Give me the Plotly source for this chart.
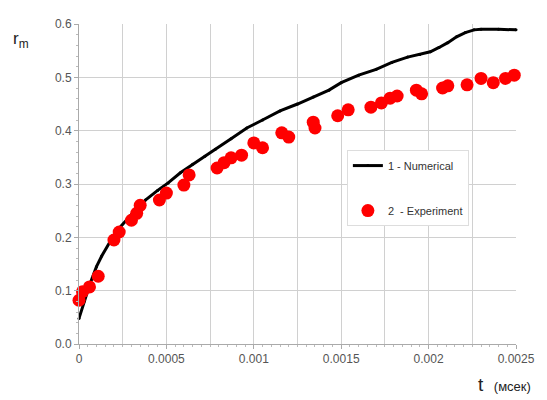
import plotly.graph_objects as go

# Numerical solution (curve 1)
t_num = [0, 0.00003, 0.00006, 0.0001, 0.00013, 0.00018, 0.00023, 0.0003, 0.00038,
         0.00045, 0.00051, 0.00058, 0.00065, 0.00072, 0.00078, 0.00087, 0.00096,
         0.00105, 0.00115, 0.00125, 0.00134, 0.00143, 0.0015, 0.0016, 0.0017,
         0.00179, 0.00188, 0.00195, 0.00201, 0.00206, 0.00211, 0.00216, 0.00221,
         0.00226, 0.0023, 0.0024, 0.0025]
r_num = [0.048, 0.08, 0.11, 0.145, 0.165, 0.193, 0.217, 0.243, 0.27,
         0.288, 0.302, 0.321, 0.337, 0.352, 0.365, 0.385, 0.405,
         0.42, 0.437, 0.45, 0.463, 0.476, 0.49, 0.504, 0.515,
         0.528, 0.538, 0.543, 0.548, 0.556, 0.565, 0.576, 0.584,
         0.589, 0.59, 0.59, 0.589]

# Experiment (series 2)
t_exp = [0, 0.00002, 0.00006, 0.00011, 0.0002, 0.00023, 0.0003, 0.00033, 0.00035,
         0.00046, 0.0005, 0.0006, 0.00063, 0.00079, 0.00083, 0.00087, 0.00093,
         0.001, 0.00105, 0.00116, 0.0012, 0.00134, 0.00135, 0.00148, 0.00154,
         0.00167, 0.00173, 0.00178, 0.00182, 0.00193, 0.00196, 0.00208, 0.00211,
         0.00222, 0.0023, 0.00237, 0.00244, 0.00249]
r_exp = [0.082, 0.098, 0.107, 0.127, 0.195, 0.21, 0.232, 0.245, 0.26,
         0.27, 0.283, 0.298, 0.317, 0.33, 0.34, 0.349, 0.354,
         0.377, 0.368, 0.396, 0.388, 0.416, 0.405, 0.428, 0.439,
         0.444, 0.452, 0.461, 0.465, 0.476, 0.469, 0.48, 0.484,
         0.486, 0.498, 0.49, 0.498, 0.504]

x_tickvals = [0, 0.0005, 0.001, 0.0015, 0.002, 0.0025]
x_ticktext = ["0", "0.0005", "0.001", "0.0015", "0.002", "0.0025"]
y_tickvals = [0.0, 0.1, 0.2, 0.3, 0.4, 0.5, 0.6]
y_ticktext = ["0.0", "0.1", "0.2", "0.3", "0.4", "0.5", "0.6"]

name_num = "1 - Numerical"
name_exp = "2  - Experiment"

fig = go.Figure()
fig.add_trace(go.Scatter(
    x=t_num, y=r_num, mode="lines+markers", name=name_num, legendgroup="a",
    line=dict(color="black", width=3), marker=dict(color="black", size=3),
    cliponaxis=False,
))
fig.add_trace(go.Scatter(
    x=t_exp, y=r_exp, mode="markers", name=name_exp, legendgroup="b",
    marker=dict(color="#ff0000", size=13), cliponaxis=False,
))
# invisible trace to host secondary grid axis
fig.add_trace(go.Scatter(x=[t_num[0]], y=[r_num[0]], xaxis="x2", mode="markers",
                         marker=dict(opacity=0), showlegend=False, hoverinfo="skip"))

font = "Liberation Sans, Arial, sans-serif"
fig.update_layout(
    width=547, height=400,
    margin=dict(l=79, r=23, t=24, b=56),
    paper_bgcolor="white", plot_bgcolor="white",
    font=dict(family=font, size=12, color="#555"),
    showlegend=True,
    legend=dict(
        x=0.613, y=0.606, xanchor="left", yanchor="top",
        bgcolor="white", bordercolor="#dddddd", borderwidth=1,
        font=dict(family=font, size=11, color="#333"),
        traceorder="grouped", tracegroupgap=26, itemwidth=30,
    ),
    xaxis=dict(
        range=[0, 0.0025], tickvals=x_tickvals, ticktext=x_ticktext,
        showgrid=False, zeroline=False,
        showline=True, linecolor="#aaaaaa", linewidth=1,
        ticks="outside", ticklen=4, tickcolor="#aaaaaa",
        minor=dict(dtick=0.00005, ticks="outside", ticklen=2, tickcolor="#bbbbbb", showgrid=False),
        tickfont=dict(size=12, color="#555"),
    ),
    xaxis2=dict(
        range=[0, 0.0025], overlaying="x", dtick=0.00025, tick0=0,
        showgrid=True, gridcolor="#d0d0d0", gridwidth=1,
        showticklabels=False, ticks="", zeroline=False, showline=False,
        side="top", layer="below traces",
    ),
    yaxis=dict(
        range=[0, 0.6], tickvals=y_tickvals, ticktext=y_ticktext,
        showgrid=True, gridcolor="#d0d0d0", gridwidth=1, zeroline=False,
        showline=True, linecolor="#aaaaaa", linewidth=1,
        ticks="outside", ticklen=4, tickcolor="#aaaaaa",
        minor=dict(dtick=0.02, ticks="outside", ticklen=2, tickcolor="#bbbbbb", showgrid=False),
        tickfont=dict(size=12, color="#555"),
    ),
    annotations=[
        dict(text="r<sub>m</sub>", xref="paper", yref="paper",
             x=(10 - 79) / 445, y=(344 - 40) / 320, xanchor="left", yanchor="middle",
             showarrow=False, font=dict(family=font, size=17, color="#222")),
        dict(text="t  <span style='font-size:13px'>(мсек)</span>", xref="paper", yref="paper",
             x=(541 - 79) / 445, y=(344 - 384) / 320, xanchor="right", yanchor="middle",
             showarrow=False, font=dict(family=font, size=19, color="#222")),
    ],
)

fig.write_html("out.html")
